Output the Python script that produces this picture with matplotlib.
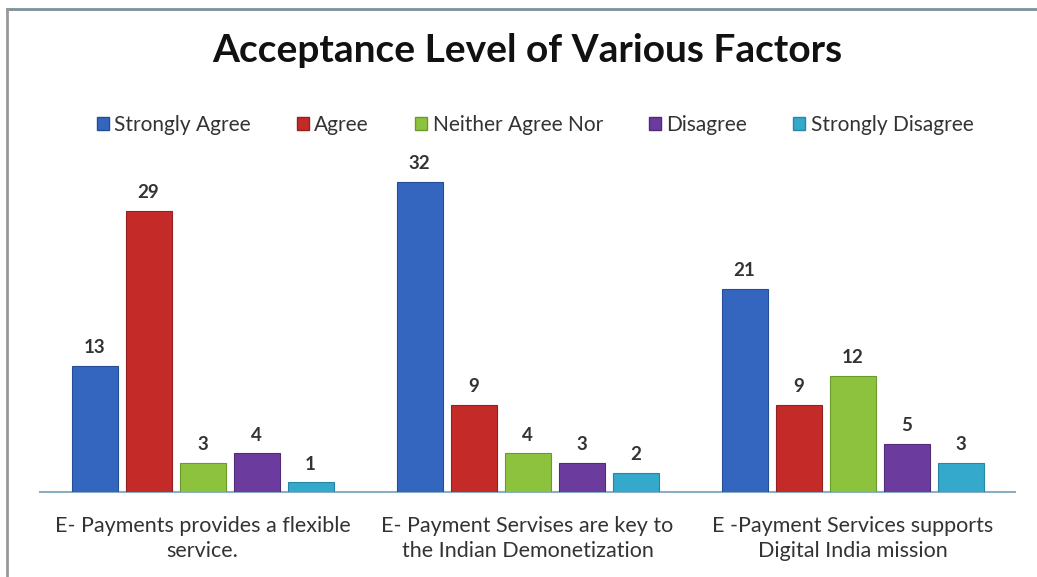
import matplotlib
matplotlib.use("Agg")
import matplotlib.pyplot as plt
from matplotlib.lines import Line2D
from matplotlib.patches import Patch
import numpy as np

categories = ["E- Payments provides a flexible\nservice.",
              "E- Payment Servises are key to\nthe Indian Demonetization",
              "E -Payment Services supports\nDigital India mission"]
series_names = ["Strongly Agree", "Agree", "Neither Agree Nor", "Disagree", "Strongly Disagree"]
strongly_agree = [13, 32, 21]
agree = [29, 9, 9]
neither = [3, 4, 12]
disagree = [4, 3, 5]
strongly_disagree = [1, 2, 3]
series_values = [strongly_agree, agree, neither, disagree, strongly_disagree]
colors = ["#3566bf", "#c42b28", "#8dc23e", "#6b3c9e", "#35a9cc"]
edge_colors = ["#244d97", "#962020", "#6a9a2a", "#4f2b78", "#2587a5"]

plt.rcParams['font.family'] = ['Lato', 'DejaVu Sans']

fig = plt.figure(figsize=(10.37, 5.77), dpi=100)
ax = fig.add_axes([40/1037, 85/577, 975/1037, (492-153)/577])

x = np.arange(len(categories))
width = 46/325
step = 54/325
for i, (name, vals) in enumerate(zip(series_names, series_values)):
    offs = (i - 2) * step
    bars = ax.bar(x + offs, vals, width, color=colors[i], edgecolor=edge_colors[i],
                  linewidth=0.8, label=name, zorder=3)
    for b, v in zip(bars, vals):
        ax.annotate(str(v), (b.get_x() + b.get_width()/2, v), xytext=(0, 7),
                    textcoords="offset points", ha="center", va="bottom",
                    fontsize=13.5, fontweight="bold", color="#333333")

ax.set_xlim(-0.5, 2.5)
ax.set_ylim(0, 35)
ax.set_yticks([])
ax.set_xticks(x)
ax.set_xticklabels(categories, fontsize=15.5, color="#333333", linespacing=1.35)
ax.tick_params(axis="x", length=0, pad=17)
for s in ["top", "right", "left"]:
    ax.spines[s].set_visible(False)
ax.spines["bottom"].set_color("#8aaec6")
ax.spines["bottom"].set_linewidth(1.5)

fig.text(527/1037, 1 - 50/577, "Acceptance Level of Various Factors", ha="center", va="center",
         fontsize=28, fontweight="bold", color="#111111")

handles = [Patch(facecolor=c, edgecolor=e) for c, e in zip(colors, edge_colors)]
fig.legend(handles, series_names, loc="center", bbox_to_anchor=(535/1037, 1 - 125/577),
           ncol=5, frameon=False, fontsize=15, handlelength=0.6, handleheight=0.6,
           handletextpad=0.25, columnspacing=2.2, labelcolor="#333333")

fig.add_artist(Line2D([7/1037, 1], [1 - 9/577, 1 - 9/577], color="#7b9196", linewidth=2))
fig.add_artist(Line2D([7/1037, 7/1037], [0, 1 - 9/577], color="#999999", linewidth=2))

fig.savefig("out.png", dpi=100)
